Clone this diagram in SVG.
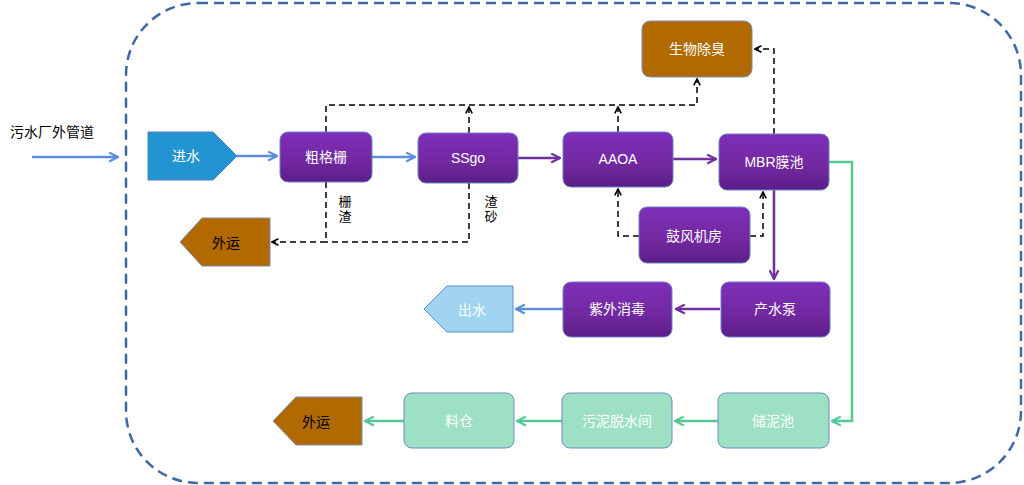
<svg xmlns="http://www.w3.org/2000/svg" width="1024" height="485" viewBox="0 0 1024 485">
<defs>
<linearGradient id="gp" x1="0" y1="0" x2="0" y2="1">
<stop offset="0" stop-color="#7e2fba"/>
<stop offset="0.6" stop-color="#72289f"/>
<stop offset="1" stop-color="#5a1e88"/>
</linearGradient>
<marker id="ab" viewBox="0 0 10 10" refX="9" refY="5" markerWidth="11" markerHeight="11" markerUnits="userSpaceOnUse" orient="auto"><path d="M1,1 L9,5 L1,9" fill="none" stroke="#5b8ed8" stroke-width="2"/></marker>
<marker id="ap" viewBox="0 0 10 10" refX="9" refY="5" markerWidth="11" markerHeight="11" markerUnits="userSpaceOnUse" orient="auto"><path d="M1,1 L9,5 L1,9" fill="none" stroke="#7030a0" stroke-width="2"/></marker>
<marker id="ag" viewBox="0 0 10 10" refX="9" refY="5" markerWidth="11" markerHeight="11" markerUnits="userSpaceOnUse" orient="auto"><path d="M1,1 L9,5 L1,9" fill="none" stroke="#55c894" stroke-width="2"/></marker>
<marker id="ak" viewBox="0 0 10 10" refX="9" refY="5" markerWidth="8" markerHeight="8" markerUnits="userSpaceOnUse" orient="auto"><path d="M1,1 L9,5 L1,9" fill="none" stroke="#000" stroke-width="2"/></marker>
</defs>
<style>
text{font-family:"Liberation Sans","Noto Sans CJK SC",sans-serif;font-size:14px;text-anchor:middle;dominant-baseline:central}
.w{fill:#ffffff}
.k{fill:#000000}
.pur{fill:url(#gp);stroke:#6d7fcc;stroke-width:1}
.brn{fill:#b06a00;stroke:#7c8db5;stroke-width:1}
.grn{fill:#9ee0c3;stroke:#6c8cc4;stroke-width:1}
.bl{fill:none;stroke:#5b8ed8;stroke-width:2.5}
.pl{fill:none;stroke:#7030a0;stroke-width:2.5}
.gl{fill:none;stroke:#55c894;stroke-width:2.5}
.dl{fill:none;stroke:#000;stroke-width:1.5;stroke-dasharray:6,4}
</style>
<rect x="126" y="3" width="895" height="480" rx="72" ry="72" fill="none" stroke="#3e68a6" stroke-width="2.5" stroke-dasharray="10,6"/>
<text class="k" x="52" y="132">污水厂外管道</text>
<g id="connectors">
<path class="bl" d="M32,157 L118,157" marker-end="url(#ab)"/>
<path class="bl" d="M237,156 L277,156" marker-end="url(#ab)"/>
<path class="bl" d="M372,157 L415,157" marker-end="url(#ab)"/>
<path class="pl" d="M518,158 L560,158" marker-end="url(#ap)"/>
<path class="pl" d="M673,159 L716,159" marker-end="url(#ap)"/>
<path class="pl" d="M774,190 L774,279" marker-end="url(#ap)"/>
<path class="pl" d="M720,309 L676,309" marker-end="url(#ap)"/>
<path class="bl" d="M563,309 L516,309" marker-end="url(#ab)"/>
<path class="gl" d="M829,162 L852,162 L852,421 L832,421" marker-end="url(#ag)"/>
<path class="gl" d="M718,421 L675,421" marker-end="url(#ag)"/>
<path class="gl" d="M562,421 L517,421" marker-end="url(#ag)"/>
<path class="gl" d="M404,421 L365,421" marker-end="url(#ag)"/>
<path class="dl" d="M326,132 L326,105 L697,105 L697,79" marker-end="url(#ak)"/>
<path class="dl" d="M469,133 L469,107" marker-end="url(#ak)"/>
<path class="dl" d="M618,132 L618,107" marker-end="url(#ak)"/>
<path class="dl" d="M774,134 L774,49 L755,49" marker-end="url(#ak)"/>
<path class="dl" d="M639,236 L618,236 L618,189" marker-end="url(#ak)"/>
<path class="dl" d="M750,236 L763,236 L763,192" marker-end="url(#ak)"/>
<path class="dl" d="M326,182 L326,242 L272,242" marker-end="url(#ak)"/>
<path class="dl" d="M469,183 L469,242 L326,242"/>
<text class="k" x="345" y="201" style="font-size:13px">栅<tspan x="345" dy="15">渣</tspan></text>
<text class="k" x="491" y="201" style="font-size:13px">渣<tspan x="491" dy="15">砂</tspan></text>
</g>
<g id="n_jinshui"><polygon points="148,132 213,132 237,156 213,180 148,180" fill="#2394d2" stroke="#4d83c0" stroke-width="1"/><text class="w" x="186" y="156">进水</text></g>
<g id="n_cugeshan"><rect class="pur" x="280" y="132" width="92" height="50" rx="8"/><text class="w" x="326" y="157">粗格栅</text></g>
<g id="n_ssgo"><rect class="pur" x="418" y="133" width="100" height="50" rx="8"/><text class="w" x="468" y="158">SSgo</text></g>
<g id="n_aaoa"><rect class="pur" x="563" y="132" width="110" height="55" rx="8"/><text class="w" x="618" y="159">AAOA</text></g>
<g id="n_mbr"><rect class="pur" x="719" y="134" width="110" height="56" rx="8"/><text class="w" x="774" y="162">MBR膜池</text></g>
<g id="n_chuchou"><rect class="brn" x="642" y="21" width="110" height="56" rx="8"/><text class="w" x="697" y="49">生物除臭</text></g>
<g id="n_gufeng"><rect class="pur" x="639" y="207" width="111" height="56" rx="8"/><text class="w" x="694" y="236">鼓风机房</text></g>
<g id="n_waiyun1"><polygon points="180,242 202,218 270,218 270,266 202,266" fill="#b06a00" stroke="#7c8db5" stroke-width="1"/><text class="k" x="226" y="243">外运</text></g>
<g id="n_chanshui"><rect class="pur" x="721" y="282" width="109" height="55" rx="8"/><text class="w" x="775" y="309">产水泵</text></g>
<g id="n_ziwai"><rect class="pur" x="563" y="282" width="109" height="55" rx="8"/><text class="w" x="617" y="309">紫外消毒</text></g>
<g id="n_chushui"><polygon points="424,309 447,286 513,286 513,332 447,332" fill="#a0d4f0" stroke="#5b8ed8" stroke-width="1"/><text class="w" x="472" y="310">出水</text></g>
<g id="n_chuni"><rect class="grn" x="718" y="393" width="111" height="55" rx="8"/><text class="w" x="773" y="421">储泥池</text></g>
<g id="n_tuoshui"><rect class="grn" x="562" y="393" width="110" height="55" rx="8"/><text class="w" x="617" y="421">污泥脱水间</text></g>
<g id="n_liaocang"><rect class="grn" x="404" y="393" width="110" height="55" rx="8"/><text class="w" x="459" y="421">料仓</text></g>
<g id="n_waiyun2"><polygon points="273,421 296,397 362,397 362,445 296,445" fill="#b06a00" stroke="#7c8db5" stroke-width="1"/><text class="k" x="316" y="422">外运</text></g>
</svg>
